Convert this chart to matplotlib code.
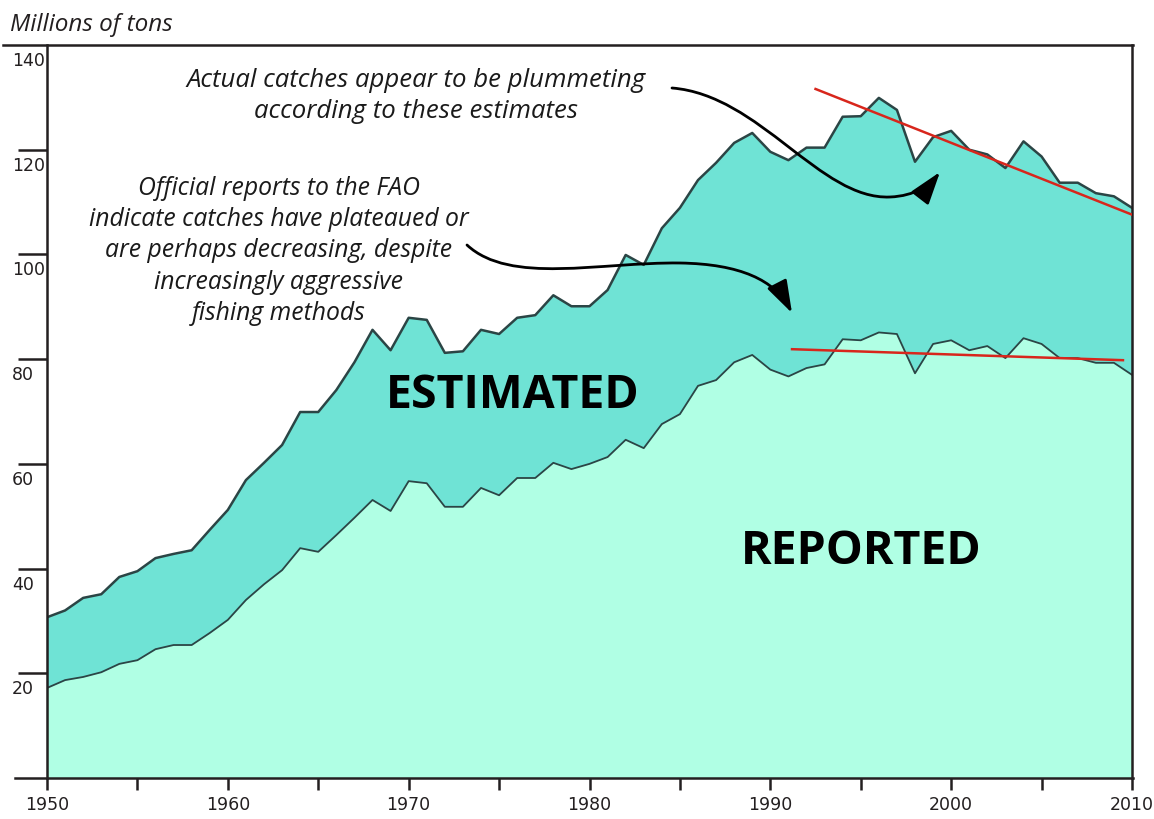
import matplotlib
matplotlib.use("Agg")
import matplotlib.pyplot as plt
from matplotlib.lines import Line2D
from matplotlib.patches import FancyArrowPatch
from matplotlib.path import Path
import numpy as np

years = list(range(1950, 2011))
estimated = [30.7, 32.0, 34.4, 35.1, 38.4, 39.5, 42.0, 42.8, 43.5, 47.4,
             51.2, 56.9, 60.2, 63.6, 69.9, 69.9, 74.1, 79.4, 85.6, 81.7,
             87.9, 87.5, 81.2, 81.5, 85.6, 84.8, 87.9, 88.4, 92.2, 90.1,
             90.1, 93.2, 99.9, 98.0, 105.0, 108.9, 114.2, 117.5, 121.3, 123.2,
             119.6, 118.0, 120.4, 120.4, 126.3, 126.4, 129.9, 127.6, 117.7, 122.4,
             123.6, 120.0, 119.1, 116.5, 121.6, 118.7, 113.7, 113.7, 111.7, 111.1,
             108.9]
reported = [17.2, 18.7, 19.3, 20.2, 21.8, 22.5, 24.6, 25.4, 25.4, 27.7,
            30.2, 34.0, 37.0, 39.7, 43.9, 43.2, 46.4, 49.7, 53.1, 51.0,
            56.7, 56.3, 51.8, 51.8, 55.4, 54.0, 57.3, 57.3, 60.2, 59.0,
            60.0, 61.3, 64.6, 63.0, 67.6, 69.5, 74.9, 76.0, 79.4, 80.8,
            78.0, 76.7, 78.3, 79.0, 83.8, 83.6, 85.1, 84.8, 77.3, 82.9,
            83.6, 81.7, 82.5, 80.2, 84.0, 82.9, 80.2, 80.2, 79.3, 79.3,
            77.0]
trend_est_x = [1992.5, 2010.0]
trend_est_y = [131.6, 107.6]
trend_rep_x = [1991.2, 2009.5]
trend_rep_y = [81.9, 79.8]
ytick_vals = [20, 40, 60, 80, 100, 120, 140]
xtick_vals = [1950, 1960, 1970, 1980, 1990, 2000, 2010]

W, H = 1154, 819
fig = plt.figure(figsize=(W / 100, H / 100), dpi=100)
fig.patch.set_facecolor("white")
L, R, T, B = 47, 1132, 45, 778
ax = fig.add_axes([L / W, 1 - B / H, (R - L) / W, (B - T) / H])

col_rep = "#B0FFE4"
col_est = "#6FE3D5"
edge = "#2B4545"

ax.fill_between(years, 0, reported, color=col_rep, lw=0, zorder=1)
ax.fill_between(years, reported, estimated, color=col_est, lw=0, zorder=1)
ax.plot(years, reported, color=edge, lw=1.3, zorder=2)
ax.plot(years, estimated, color=edge, lw=1.8, zorder=2)

ax.plot(trend_est_x, trend_est_y, color="#D8261C", lw=1.8, zorder=3)
ax.plot(trend_rep_x, trend_rep_y, color="#D8261C", lw=1.8, zorder=3)

ax.set_xlim(1950, 2010)
ax.set_ylim(0, 140)

for s in ["top", "bottom"]:
    ax.spines[s].set_visible(False)
for s in ["left", "right"]:
    ax.spines[s].set_linewidth(1.8)
    ax.spines[s].set_color("#231F20")

fig.add_artist(Line2D([3 / W, (R + 1) / W], [1 - T / H] * 2, color="#231F20", lw=1.8,
                      transform=fig.transFigure))
fig.add_artist(Line2D([15 / W, (R + 1) / W], [1 - B / H] * 2, color="#231F20", lw=1.8,
                      transform=fig.transFigure))

ax.set_yticks([v for v in ytick_vals if v < 140])
ax.set_yticklabels([])
ax.tick_params(axis="y", direction="out", length=21, width=1.8, color="#231F20", right=False)
ax.set_xticks(xtick_vals)
ax.set_xticks([1955, 1965, 1975, 1985, 1995, 2005], minor=True)
ax.set_xticklabels([])
ax.tick_params(axis="x", which="both", direction="out", length=8.5, width=1.8, color="#231F20")

tickfont = ["DejaVu Sans"]
ytr = ax.get_yaxis_transform()
for v in ytick_vals:
    ax.annotate(str(v), xy=(-35 / (R - L), v), xycoords=ytr, xytext=(0, -5),
                textcoords="offset points", ha="left", va="top", fontsize=12.5,
                family=tickfont, color="#231F20")
xtr = ax.get_xaxis_transform()
for v in xtick_vals:
    ax.annotate(str(v), xy=(v, 0), xycoords=xtr, xytext=(0, -13),
                textcoords="offset points", ha="center", va="top", fontsize=12.5,
                family=tickfont, color="#231F20")

itfont = ["Open Sans", "DejaVu Sans"]
fig.text(10 / W, 1 - 25 / H, "Millions of tons", ha="left", va="center",
         fontsize=17.5, style="italic", family=itfont, color="#231F20")

def d(px, py):
    return (1950 + (px - L) / ((R - L) / 60.0), (B - py) / ((B - T) / 140.0))

x0, y0 = d(416, 96)
ax.text(x0, y0, "Actual catches appear to be plummeting\naccording to these estimates",
        ha="center", va="center", fontsize=18.5, style="italic", family=itfont,
        linespacing=1.27, color="#1A1A1A", zorder=5)
x0, y0 = d(279, 251)
ax.text(x0, y0, "Official reports to the FAO\nindicate catches have plateaued or\n"
        "are perhaps decreasing, despite\nincreasingly aggressive\nfishing methods",
        ha="center", va="center", fontsize=17.8, style="italic", family=itfont,
        linespacing=1.32, color="#1A1A1A", zorder=5)

x0, y0 = d(513, 396)
ax.text(x0, y0, "ESTIMATED", ha="center", va="center", fontsize=33.5, weight="bold",
        family=itfont, color="black", zorder=5)
x0, y0 = d(861, 552)
ax.text(x0, y0, "REPORTED", ha="center", va="center", fontsize=33.5, weight="bold",
        family=itfont, color="black", zorder=5)

def arrow(pts):
    verts = [d(*p) for p in pts]
    codes = [Path.MOVETO] + [Path.CURVE4] * (len(verts) - 1)
    pa = FancyArrowPatch(path=Path(verts, codes),
                         arrowstyle="-|>,head_length=1.0,head_width=0.33",
                         mutation_scale=20, color="black", lw=2, transform=ax.transData,
                         zorder=6)
    ax.add_patch(pa)

arrow([(672, 88), (760, 95), (820, 200), (890, 197), (915, 196), (930, 185), (940, 172)])
arrow([(467, 245), (510, 285), (600, 262), (680, 263), (740, 264), (775, 280), (792, 313)])

fig.savefig("out.png", dpi=100, facecolor="white")
